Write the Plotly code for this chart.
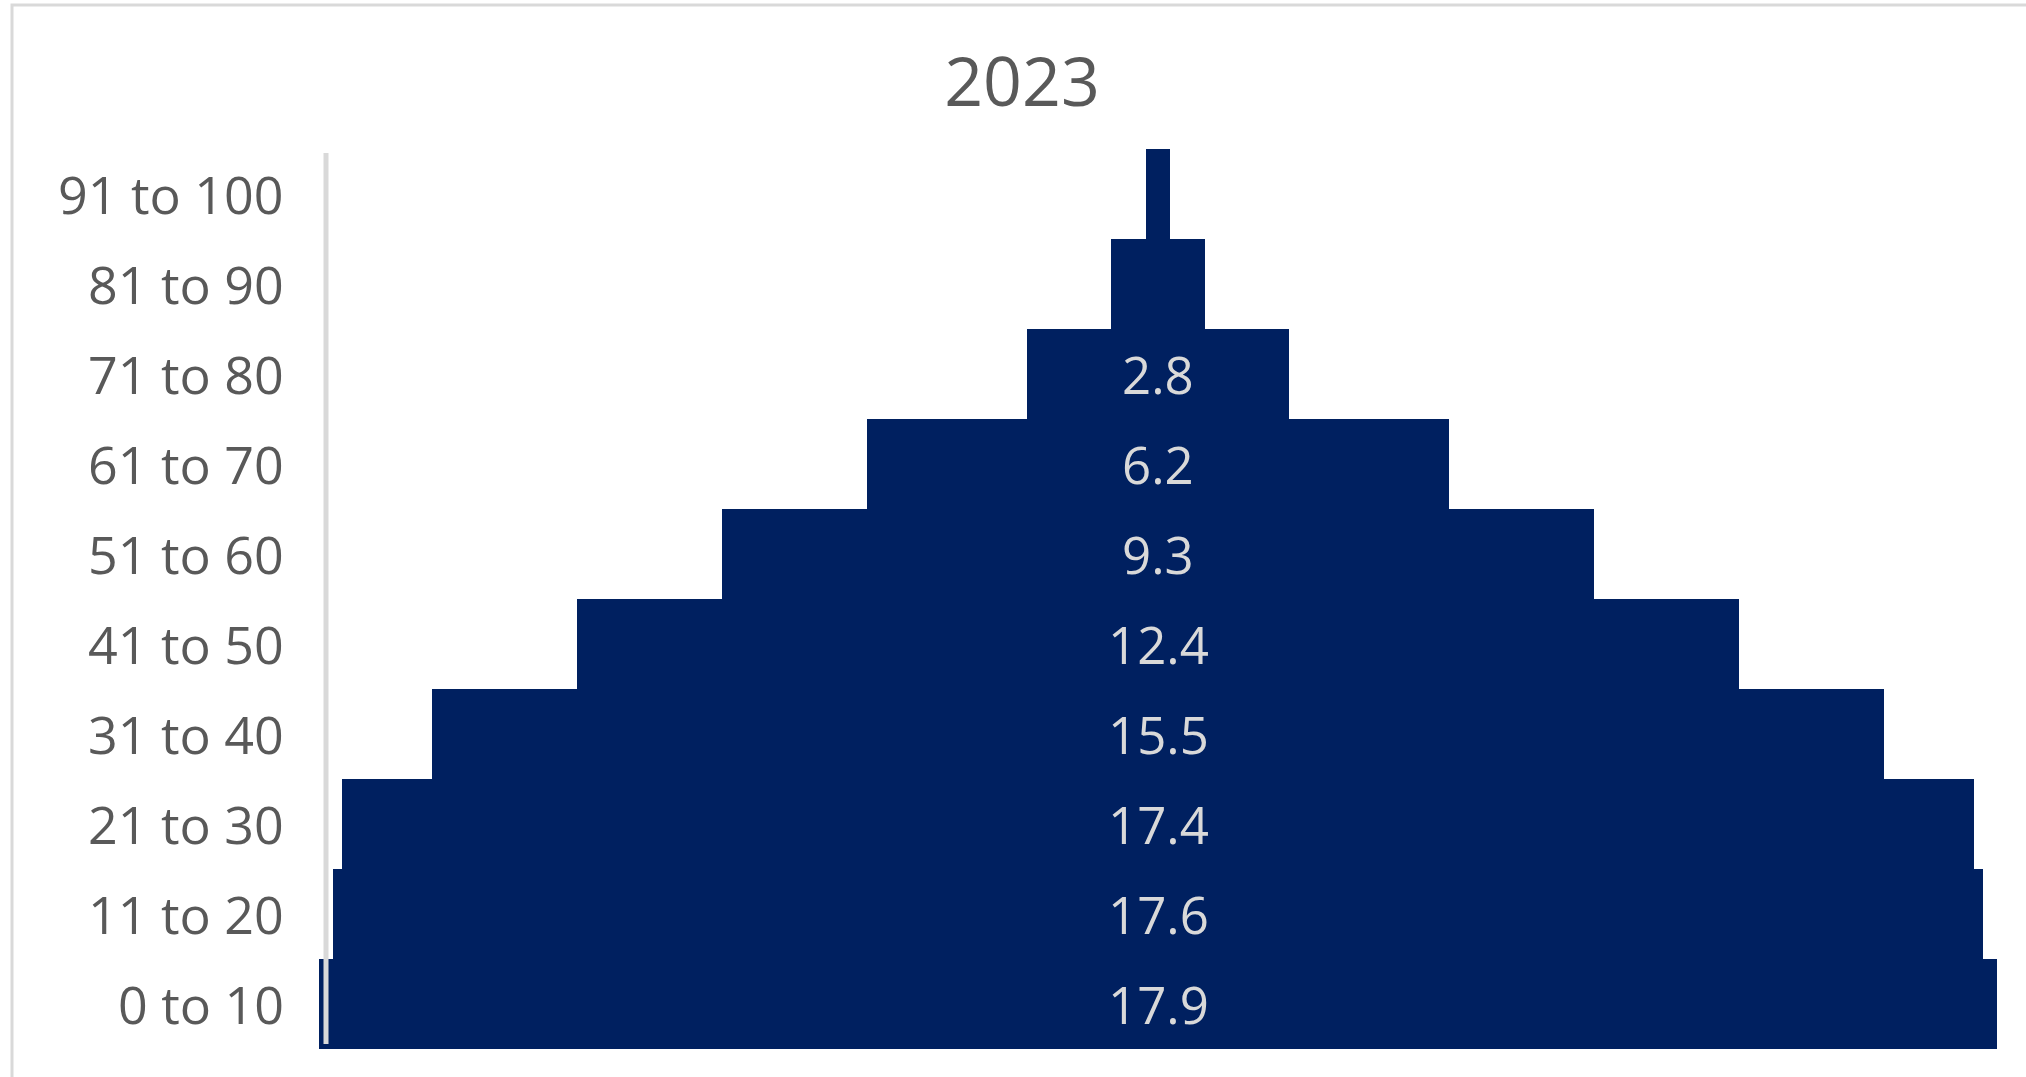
import plotly.graph_objects as go

# Population share by age band, 2023 (percent)
age_groups = ["0 to 10", "11 to 20", "21 to 30", "31 to 40", "41 to 50",
              "51 to 60", "61 to 70", "71 to 80", "81 to 90", "91 to 100"]
shares = [17.9, 17.6, 17.4, 15.5, 12.4, 9.3, 6.2, 2.8, 1.0, 0.25]
chart_title = "2023"

BAR_COLOR = "#002060"
LABEL_COLOR = "#D9D9D9"
TEXT_GREY = "#595959"
RULE_GREY = "#D9D9D9"
FONT = "Open Sans"

# Pixel geometry of the plotting area
L, R, T, B = 300, 2010, 149, 1049
W, H = 2026, 1077
center_px, px_per_unit = 1158, 93.74

fig = go.Figure(
    go.Bar(
        y=age_groups,
        x=shares,
        base=[-v / 2 for v in shares],  # centre each band on zero
        orientation="h",
        marker=dict(color=BAR_COLOR, line=dict(width=0)),
        hoverinfo="skip",
    )
)

annotations = []
# Category labels to the left of the axis rule
for g in age_groups:
    annotations.append(dict(
        x=(286 - L) / (R - L), xref="paper", xanchor="right",
        y=g, yref="y", yanchor="middle", yshift=1,
        text=g, showarrow=False,
        font=dict(family=FONT, size=52, color=TEXT_GREY),
    ))
# Value labels in the middle of bands wide enough to hold them
for g, v in zip(age_groups, shares):
    if v >= 2:
        annotations.append(dict(
            x=0, xref="x", xanchor="center",
            y=g, yref="y", yanchor="middle", yshift=0,
            text=f"{v:.1f}", showarrow=False,
            font=dict(family=FONT, size=51, color=LABEL_COLOR),
        ))

fig.update_layout(
    width=W,
    height=H,
    margin=dict(l=L, r=W - R, t=T, b=H - B, pad=0),
    paper_bgcolor="white",
    plot_bgcolor="white",
    bargap=0,
    showlegend=False,
    title=dict(
        text=chart_title,
        x=1022 / W,
        xref="container",
        xanchor="center",
        y=1 - 82 / H,
        yref="container",
        yanchor="middle",
        font=dict(family=FONT, size=68, color=TEXT_GREY),
    ),
    xaxis=dict(
        range=[(L - center_px) / px_per_unit, (R - center_px) / px_per_unit],
        showgrid=False,
        zeroline=False,
        showticklabels=False,
        showline=False,
        fixedrange=True,
    ),
    yaxis=dict(
        type="category",
        categoryorder="array",
        categoryarray=age_groups,
        showgrid=False,
        zeroline=False,
        showline=False,
        showticklabels=False,
        ticks="",
        fixedrange=True,
    ),
    annotations=annotations,
    shapes=[
        # vertical category axis rule, drawn over the bars
        dict(
            type="line",
            xref="paper", yref="paper",
            x0=(326 - L) / (R - L), x1=(326 - L) / (R - L),
            y0=(B - 1044) / (B - T), y1=(B - 153) / (B - T),
            line=dict(color=RULE_GREY, width=5),
            layer="above",
        ),
        # chart frame
        dict(
            type="rect",
            xref="paper", yref="paper",
            x0=(12 - L) / (R - L), x1=(2045 - L) / (R - L),
            y0=(B - 1095) / (B - T), y1=(B - 5) / (B - T),
            line=dict(color=RULE_GREY, width=3),
            fillcolor="rgba(0,0,0,0)",
            layer="below",
        ),
    ],
)

fig.write_html("out.html")
